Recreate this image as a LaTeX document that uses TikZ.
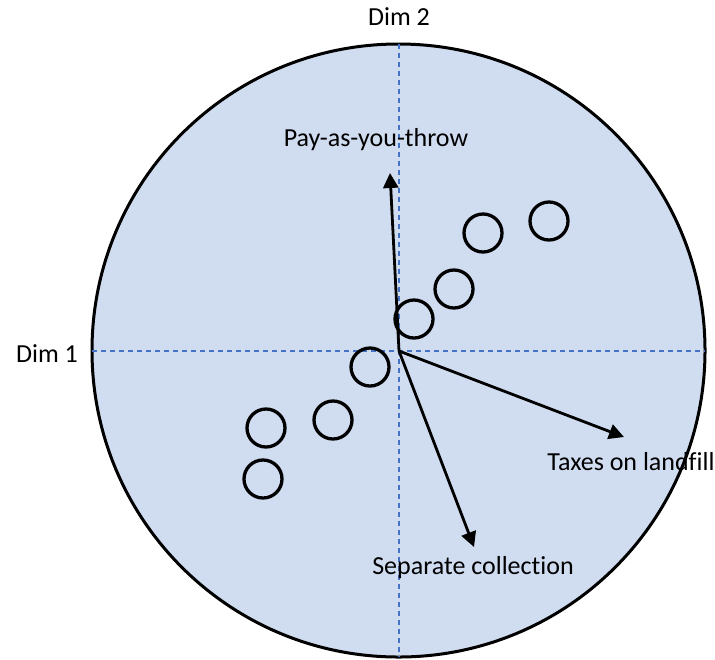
\documentclass[tikz,border=0pt]{standalone}
\usepackage{fontspec}
\setmainfont{Carlito}[Ligatures=NoCommon]
\usetikzlibrary{arrows.meta}
\definecolor{plotfill}{RGB}{208,220,240}
\definecolor{axisblue}{RGB}{68,114,196}
\begin{document}
\begin{tikzpicture}[x=0.5pt,y=-0.5pt,
		vec/.style={line width=1.4pt,-{Triangle[length=7.5pt,width=7.5pt]}},
		axis/.style={axisblue,line width=0.6pt,dash pattern=on 2.5pt off 2pt},
		obs/.style={circle,draw,line width=1.65pt,minimum size=19pt,inner sep=0pt},
		lbl/.style={font=\fontsize{13}{15}\selectfont,inner sep=0pt}]
		\useasboundingbox (0,0) rectangle (715,659);
		\draw[fill=plotfill,line width=1.5pt](398.5,350.5) circle [radius=153.25pt];
		% axes
		\coordinate (w) at (92,351);
		\coordinate (e) at (705,351);
		\coordinate (n) at (399,44);
		\coordinate (s) at (399,657);
		\coordinate (o) at (399,351);
		\draw[axis](w)--(e);
		\draw[axis](n)--(s);
		\node[lbl] (dimone) at (47,354) {Dim 1};
		\node[lbl] (dimtwo) at (399,17) {Dim 2};
		% observations
		\foreach \x/\y [count=\i] in {549/221,483/233,454/289,414/319,370/367,333/420,266/428,263/479}
			\node[obs] (c\i) at (\x,\y) {};
		% variables
		\coordinate (payt) at (390,173);
		\coordinate (tax) at (624,437);
		\coordinate (sep) at (474,547);
		\draw[vec](o)--(payt);
		\draw[vec](o)--(tax);
		\draw[vec](o)--(sep);
		\node[lbl] (paytlbl) at (376,140) {Pay-as-you-throw};
		\node[lbl] (taxlbl) at (631,462) {Taxes on landfill};
		\node[lbl] (seplbl) at (473,568) {Separate collection};
	\end{tikzpicture}
\end{document}
